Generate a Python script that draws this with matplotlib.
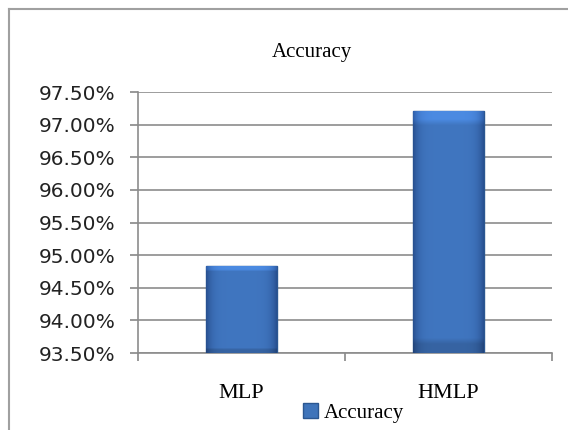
import numpy as np
import matplotlib.pyplot as plt
from matplotlib.lines import Line2D
from matplotlib.patches import Patch
from matplotlib.ticker import FuncFormatter

# data
models = ["MLP", "HMLP"]
accuracy = [94.83, 97.21]
y_ticks = [93.5, 94.0, 94.5, 95.0, 95.5, 96.0, 96.5, 97.0, 97.5]

serif = "Liberation Serif"


def shade_bars(ax, bars):
    # soft bevel: darker at the sides, flat in the middle
    t = np.linspace(-1, 1, 64)
    shade = 1 - np.abs(t) ** 6
    light = np.array([0.25, 0.46, 0.75])
    dark = np.array([0.16, 0.32, 0.57])
    row = dark + (light - dark) * shade[:, None]
    img = np.repeat(row[None, :, :], 40, axis=0)
    img[-2:] = np.clip(img[-2:] * 1.18, 0, 1)
    img[:2] = img[:2] * 0.85
    for b in bars:
        x0, y0 = b.get_x(), b.get_y()
        w, h = b.get_width(), b.get_height()
        im = ax.imshow(img, extent=[x0, x0 + w, y0, y0 + h], origin="lower",
                       aspect="auto", zorder=3, interpolation="bilinear")
        im.set_clip_path(b)


def main():
    fig = plt.figure(figsize=(5.68, 4.30), dpi=100)
    ax = fig.add_axes([0.243, 0.179, 0.729, 0.607])

    x = list(range(len(models)))
    base = y_ticks[0]
    heights = [a - base for a in accuracy]
    bars = ax.bar(x, heights, bottom=base, width=0.34, color="#3f74ba",
                  edgecolor="#2b5791", linewidth=1.0, zorder=3)
    shade_bars(ax, bars)

    ax.set_xlim(-0.5, len(models) - 0.5)
    ax.set_ylim(y_ticks[0], y_ticks[-1])
    ax.set_yticks(y_ticks)
    ax.yaxis.set_major_formatter(FuncFormatter(lambda v, p: "%.2f%%" % v))
    ax.grid(axis="y", color="#8c8c8c", linewidth=1.2, zorder=0)

    # category boundary ticks, labels in between
    ax.set_xticks([i - 0.5 for i in range(len(models) + 1)])
    ax.set_xticklabels([])
    ax.set_xticks(x, minor=True)
    ax.set_xticklabels(models, minor=True, fontfamily=serif, fontsize=16)
    ax.tick_params(axis="x", which="minor", length=0, pad=22)
    ax.tick_params(axis="x", which="major", length=6, color="#888888", width=1.2)
    ax.tick_params(axis="y", length=6, color="#888888", width=1.2,
                   labelsize=14.5, pad=10, labelcolor="#222222")

    for side in ["top", "right"]:
        ax.spines[side].set_visible(False)
    for side in ["left", "bottom"]:
        ax.spines[side].set_color("#8c8c8c")
        ax.spines[side].set_linewidth(1.2)

    fig.text(0.549, 0.878, "Accuracy", ha="center", va="center",
             fontfamily=serif, fontsize=15)

    handle = Patch(facecolor="#3f74ba", edgecolor="#2b5791")
    fig.legend([handle], ["Accuracy"], loc="center", bbox_to_anchor=(0.623, 0.04),
               frameon=False, prop={"family": serif, "size": 15},
               handlelength=0.7, handleheight=0.7, handletextpad=0.3,
               borderpad=0)

    # outer chart border (cropped on right and bottom)
    x0 = 9 / 568.0
    y0 = 1 - 9 / 430.0
    fig.add_artist(Line2D([x0, 1.0], [y0, y0], color="#a0a0a0", linewidth=1.5,
                          transform=fig.transFigure))
    fig.add_artist(Line2D([x0, x0], [y0, 0.0], color="#a0a0a0", linewidth=1.5,
                          transform=fig.transFigure))

    fig.savefig("out.png", dpi=100)


if __name__ == "__main__":
    main()
